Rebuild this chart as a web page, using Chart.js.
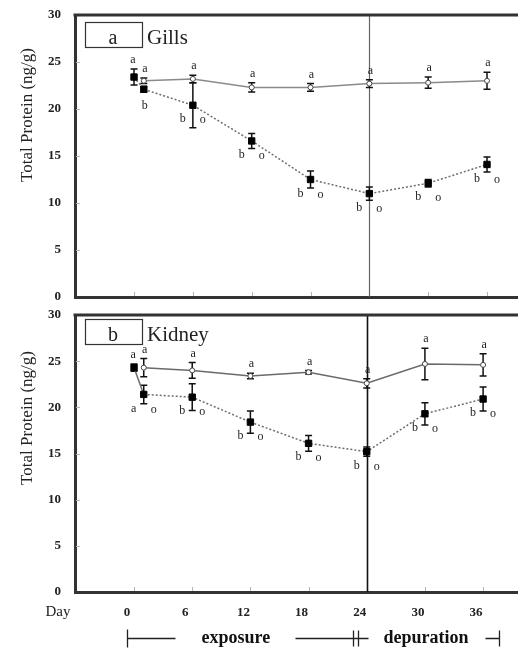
<!DOCTYPE html>
<html lang="en">
<head>
    <meta charset="UTF-8">
    <title>Total Protein - Gills and Kidney</title>
    <script src="https://cdn.jsdelivr.net/npm/chart.js"></script>
    <style>
        html, body { margin: 0; background: #fff; overflow: hidden; }
        #wrap { position: relative; width: 518px; height: 651px; overflow: hidden; }
        #gillsBox { position: absolute; left: 0; top: 0; width: 518px; height: 300px; }
        #kidneyBox { position: absolute; left: 0; top: 300px; width: 518px; height: 351px; }
        canvas { display: block; }
    </style>
</head>
<body>
<div id="wrap">
    <div id="gillsBox"><canvas id="gillsChart"></canvas></div>
    <div id="kidneyBox"><canvas id="kidneyChart"></canvas></div>
</div>

<script>
    // sampling days
    const ctrlDays = [1, 6, 12, 18, 24, 30, 36];
    const expDays = [0, 1, 6, 12, 18, 24, 30, 36];
    const dayTicks = [0, 6, 12, 18, 24, 30, 36];
    const yTicks = [0, 5, 10, 15, 20, 25, 30];

    // gills (ng/g), mean and error
    const gillsCtrl = [23.0, 23.2, 22.3, 22.3, 22.7, 22.8, 23.0];
    const gillsCtrlErr = [0.3, 0.4, 0.5, 0.4, 0.4, 0.6, 0.9];
    const gillsExp = [23.4, 22.1, 20.4, 16.6, 12.5, 11.0, 12.1, 14.1];
    const gillsExpErr = [0.85, 0.3, 2.4, 0.8, 0.9, 0.7, 0.4, 0.8];
    const gillsCtrlSig = ['a', 'a', 'a', 'a', 'a', 'a', 'a'];
    const gillsExpSig = ['a', 'b', 'b', 'b', 'b', 'b', 'b', 'b'];
    const gillsExpMark = ['', '', 'o', 'o', 'o', 'o', 'o', 'o'];

    // kidney (ng/g), mean and error
    const kidneyCtrl = [24.3, 24.0, 23.4, 23.8, 22.6, 24.7, 24.6];
    const kidneyCtrlErr = [1.0, 0.85, 0.3, 0.2, 0.5, 1.7, 1.2];
    const kidneyExp = [24.3, 21.4, 21.1, 18.4, 16.1, 15.2, 19.3, 20.9];
    const kidneyExpErr = [0.4, 1.0, 1.45, 1.2, 0.85, 0.5, 1.2, 1.3];
    const kidneyCtrlSig = ['a', 'a', 'a', 'a', 'a', 'a', 'a'];
    const kidneyExpSig = ['a', 'a', 'b', 'b', 'b', 'b', 'b', 'b'];
    const kidneyExpMark = ['', 'o', 'o', 'o', 'o', 'o', 'o', 'o'];

    const SERIF = "'Liberation Serif', 'Times New Roman', serif";

    // error bars, letters, frame bits that Chart.js has no option for
    function panelDecor(p) {
        return {
            id: 'panelDecor',
            beforeDatasetsDraw(chart) {
                const { ctx, chartArea: a, scales: { x, y } } = chart;
                ctx.save();
                ctx.strokeStyle = '#b5b5b5';
                ctx.lineWidth = 1;
                dayTicks.forEach(d => {
                    const px = Math.round(x.getPixelForValue(d)) + 0.5;
                    ctx.beginPath(); ctx.moveTo(px, a.bottom - 1); ctx.lineTo(px, a.bottom - 5); ctx.stroke();
                });
                yTicks.slice(1, -1).forEach(v => {
                    const py = Math.round(y.getPixelForValue(v)) + 0.5;
                    ctx.beginPath(); ctx.moveTo(a.left + 1, py); ctx.lineTo(a.left + 5, py); ctx.stroke();
                });

                // end of exposure
                const sx = Math.round(x.getPixelForValue(24)) + 0.5;
                ctx.strokeStyle = p.splitColor;
                ctx.lineWidth = p.splitWidth;
                ctx.beginPath(); ctx.moveTo(sx, a.top); ctx.lineTo(sx, a.bottom); ctx.stroke();

                ctx.strokeStyle = '#111';
                ctx.lineWidth = 1.5;
                [[ctrlDays, p.ctrl, p.ctrlErr], [expDays, p.exp, p.expErr]].forEach(([days, vals, errs]) => {
                    days.forEach((d, i) => {
                        const px = x.getPixelForValue(d);
                        const t = y.getPixelForValue(vals[i] + errs[i]);
                        const b = y.getPixelForValue(vals[i] - errs[i]);
                        ctx.beginPath();
                        ctx.moveTo(px, t); ctx.lineTo(px, b);
                        ctx.moveTo(px - 3.5, t); ctx.lineTo(px + 3.5, t);
                        ctx.moveTo(px - 3.5, b); ctx.lineTo(px + 3.5, b);
                        ctx.stroke();
                    });
                });
                ctx.restore();
            },
            afterDatasetsDraw(chart) {
                const { ctx, scales: { x, y } } = chart;
                ctx.save();
                ctx.font = `12px ${SERIF}`;
                ctx.fillStyle = '#222';
                ctx.textAlign = 'center';
                ctx.textBaseline = 'middle';
                ctrlDays.forEach((d, i) => {
                    const px = x.getPixelForValue(d);
                    const t = y.getPixelForValue(p.ctrl[i] + p.ctrlErr[i]);
                    ctx.fillText(p.ctrlSig[i], px + 1, t - 9);
                });
                expDays.forEach((d, i) => {
                    const px = x.getPixelForValue(d);
                    const py = y.getPixelForValue(p.exp[i]);
                    if (i === 0) {
                        const t = y.getPixelForValue(p.exp[i] + p.expErr[i]);
                        ctx.fillText(p.expSig[i], px - 1, t - 9);
                    } else if (!p.expMark[i]) {
                        ctx.fillText(p.expSig[i], px + 1, py + 17);
                    } else {
                        ctx.fillText(p.expSig[i], px - 10, py + 14);
                        ctx.fillText(p.expMark[i], px + 10, py + 15);
                    }
                });
                ctx.restore();
            },
            afterDraw(chart) {
                const { ctx, chartArea: a, scales: { x } } = chart;
                ctx.save();
                // top frame line
                ctx.strokeStyle = '#333';
                ctx.lineWidth = 3;
                ctx.beginPath(); ctx.moveTo(a.left - 1.5, a.top); ctx.lineTo(chart.width, a.top); ctx.stroke();

                // panel tag
                ctx.lineWidth = 1.2;
                ctx.strokeRect(85.5, p.tagY + 0.5, 57, 25);
                ctx.fillStyle = '#222';
                ctx.font = `20px ${SERIF}`;
                ctx.textAlign = 'center';
                ctx.textBaseline = 'alphabetic';
                ctx.fillText(p.tag, 113, p.tagY + 22);
                ctx.font = `21px ${SERIF}`;
                ctx.textAlign = 'left';
                ctx.fillText(p.organ, 147, p.tagY + 22);

                // y title
                ctx.save();
                ctx.translate(28, p.titleY);
                ctx.rotate(-Math.PI / 2);
                ctx.font = `17px ${SERIF}`;
                ctx.textAlign = 'center';
                ctx.textBaseline = 'middle';
                ctx.fillText('Total Protein (ng/g)', 0, 0);
                ctx.restore();

                if (p.bracket) {
                    const ly = 338.5;
                    ctx.font = `15px ${SERIF}`;
                    ctx.textAlign = 'center';
                    ctx.textBaseline = 'middle';
                    ctx.fillText('Day', 58, 312);

                    ctx.strokeStyle = '#222';
                    ctx.lineWidth = 1.3;
                    const px = d => Math.round(x.getPixelForValue(d)) + 0.5;
                    ctx.beginPath();
                    ctx.moveTo(px(-0.7), ly - 9); ctx.lineTo(px(-0.7), ly + 9);
                    ctx.moveTo(px(-0.7), ly); ctx.lineTo(px(4.2), ly);
                    ctx.moveTo(px(16.6), ly); ctx.lineTo(px(24.1), ly);
                    ctx.moveTo(px(22.6), ly - 8); ctx.lineTo(px(22.6), ly + 8);
                    ctx.moveTo(px(23.1), ly - 8); ctx.lineTo(px(23.1), ly + 8);
                    ctx.moveTo(px(36.2), ly); ctx.lineTo(px(37.6), ly);
                    ctx.moveTo(px(37.6), ly - 8); ctx.lineTo(px(37.6), ly + 8);
                    ctx.stroke();

                    ctx.font = `bold 18px ${SERIF}`;
                    ctx.fillStyle = '#111';
                    ctx.fillText('exposure', x.getPixelForValue(10.5), ly);
                    ctx.fillText('depuration', x.getPixelForValue(30.1), ly);
                }
                ctx.restore();
            }
        };
    }

    function makeChart(canvasID, p) {
        const tickFont = { family: SERIF, size: 13, weight: 'bold' };
        return new Chart(document.getElementById(canvasID), {
            type: 'line',
            data: {
                datasets: [{
                    label: 'control',
                    data: ctrlDays.map((d, i) => ({ x: d, y: p.ctrl[i] })),
                    borderColor: p.ctrlLine,
                    borderWidth: 1.5,
                    pointStyle: 'circle',
                    pointRadius: 2.5,
                    pointBackgroundColor: '#fff',
                    pointBorderColor: '#444',
                    pointBorderWidth: 1
                }, {
                    label: 'exposed',
                    data: expDays.map((d, i) => ({ x: d, y: p.exp[i] })),
                    borderColor: '#6e6e6e',
                    borderWidth: 1.5,
                    borderDash: [2, 2],
                    segment: p.segment,
                    pointStyle: 'rect',
                    pointRadius: 4.5,
                    pointBackgroundColor: '#000',
                    pointBorderColor: '#000',
                    pointBorderWidth: 1
                }]
            },
            options: {
                responsive: true,
                maintainAspectRatio: false,
                animation: false,
                layout: { autoPadding: false, padding: { top: 15, right: 0, bottom: p.padBottom, left: 0 } },
                plugins: { legend: { display: false }, tooltip: { enabled: false } },
                scales: {
                    x: {
                        type: 'linear',
                        min: p.xMin,
                        max: p.xMax,
                        afterBuildTicks: s => { s.ticks = dayTicks.map(v => ({ value: v })); },
                        afterFit: s => { s.height = p.xHeight; s.paddingLeft = 0; s.paddingRight = 0; s.paddingTop = 0; s.paddingBottom = 0; },
                        grid: { display: false, drawTicks: false },
                        border: { display: true, width: 3, color: '#333' },
                        ticks: { display: p.showDays, padding: 13, labelOffset: -7, maxRotation: 0, autoSkip: false, font: tickFont, color: '#222' }
                    },
                    y: {
                        min: 0,
                        max: 30,
                        afterBuildTicks: s => { s.ticks = yTicks.map(v => ({ value: v })); },
                        afterFit: s => { s.width = 75; s.paddingLeft = 0; s.paddingRight = 0; s.paddingTop = 0; s.paddingBottom = 0; },
                        grid: { display: false, drawTicks: false },
                        border: { display: true, width: 3, color: '#333' },
                        ticks: { padding: 14, font: tickFont, color: '#222' }
                    }
                }
            },
            plugins: [panelDecor(p)]
        });
    }

    makeChart('gillsChart', {
        ctrl: gillsCtrl, ctrlErr: gillsCtrlErr, exp: gillsExp, expErr: gillsExpErr,
        ctrlSig: gillsCtrlSig, expSig: gillsExpSig, expMark: gillsExpMark,
        tag: 'a', organ: 'Gills', tagY: 22, titleY: 115,
        splitColor: '#666', splitWidth: 1.2, ctrlLine: '#8a8a8a',
        xMin: -6.02, xMax: 39.16, xHeight: 0, padBottom: 3, showDays: false, bracket: false
    });

    makeChart('kidneyChart', {
        ctrl: kidneyCtrl, ctrlErr: kidneyCtrlErr, exp: kidneyExp, expErr: kidneyExpErr,
        ctrlSig: kidneyCtrlSig, expSig: kidneyExpSig, expMark: kidneyExpMark,
        tag: 'b', organ: 'Kidney', tagY: 19, titleY: 118,
        splitColor: '#111', splitWidth: 1.6, ctrlLine: '#6a6a6a',
        segment: { borderDash: c => c.p0DataIndex === 0 ? [] : [2, 2] },
        xMin: -6.09, xMax: 39.6, xHeight: 30, padBottom: 29, showDays: true, bracket: true
    });
</script>
</body>
</html>
